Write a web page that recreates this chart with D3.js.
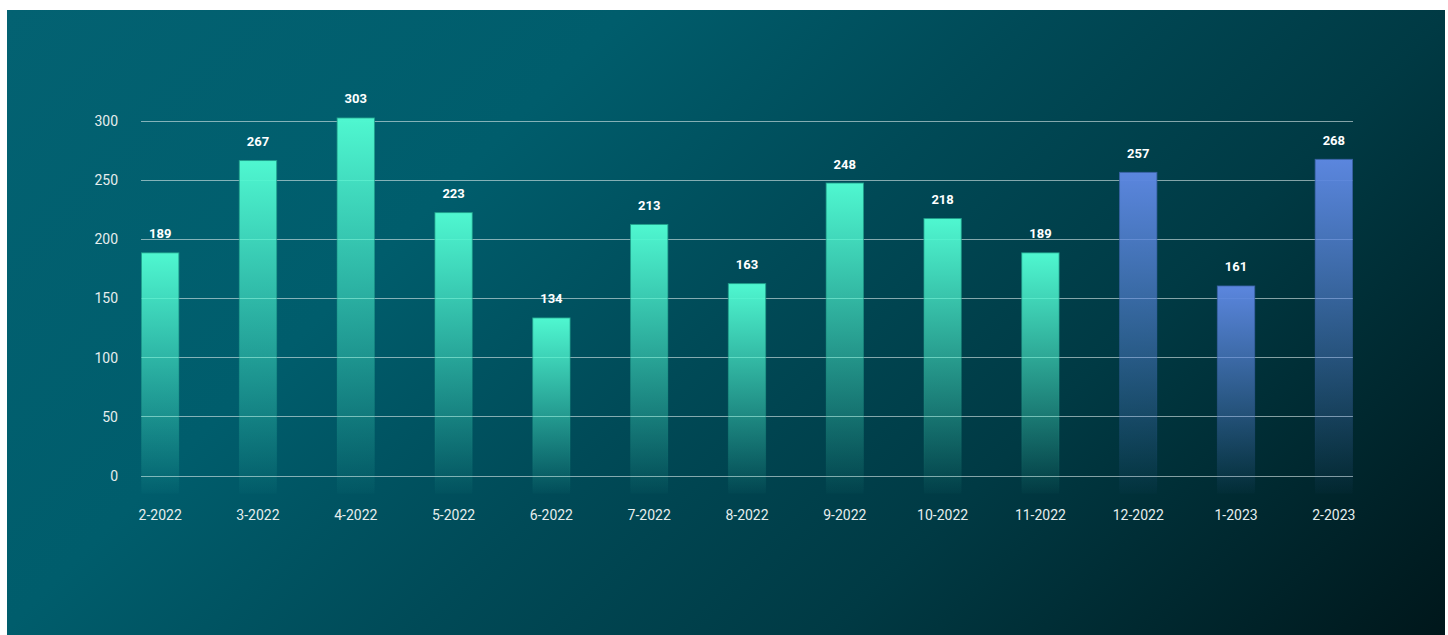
<!DOCTYPE html>
<html>
<head>
<meta charset="utf-8">
<script src="https://cdn.jsdelivr.net/npm/d3@7"></script>
<style>
  html, body { margin: 0; padding: 0; background: #ffffff; }
  #panel {
    position: absolute; left: 7px; top: 10px; width: 1438px; height: 625px;
    background: linear-gradient(135deg, #036272 0%, #005d6c 30%, #004a57 50%, #003a44 70%, #00171b 100%);
  }
  svg { position: absolute; left: 0; top: 0; }
  text { font-family: Roboto, "Noto Sans", sans-serif; }
</style>
</head>
<body>
<div id="panel"></div>
<svg id="chart" width="1448" height="635"></svg>
<script>
// Monthly counts, Feb 2022 – Feb 2023
const months = ["2-2022", "3-2022", "4-2022", "5-2022", "6-2022", "7-2022", "8-2022",
                "9-2022", "10-2022", "11-2022", "12-2022", "1-2023", "2-2023"];
const counts = [189, 267, 303, 223, 134, 213, 163, 248, 218, 189, 257, 161, 268];
// the last three months are shown in the second (blue) colour
const highlighted = ["12-2022", "1-2023", "2-2023"];
const yTicks = [0, 50, 100, 150, 200, 250, 300];

const svg = d3.select("#chart");
const plotLeft = 141, plotRight = 1353, plotTop = 121, plotBottom = 476;

const x = d3.scaleBand().domain(months).range([plotLeft, plotRight]).paddingInner(0.608).paddingOuter(0);
const y = d3.scaleLinear().domain([0, 300]).range([plotBottom, plotTop]);

// vertical fades for the two bar colours
const defs = svg.append("defs");
function fade(id, color, topOpacity, bottomOpacity) {
  const g = defs.append("linearGradient").attr("id", id)
    .attr("x1", 0).attr("y1", 0).attr("x2", 0).attr("y2", 1);
  g.append("stop").attr("offset", "0%").attr("stop-color", color).attr("stop-opacity", topOpacity);
  g.append("stop").attr("offset", "100%").attr("stop-color", color).attr("stop-opacity", bottomOpacity);
}
fade("fillGreen", "#4ff7d0", 1, 0.02);
fade("fillBlue", "#5b86de", 1, 0.02);
fade("lineGreen", "#1f9f8a", 0.8, 0);
fade("lineBlue", "#3b62a8", 0.8, 0);

// horizontal grid lines
svg.append("g").selectAll("line").data(yTicks).join("line")
  .attr("x1", plotLeft).attr("x2", plotRight)
  .attr("y1", d => y(d)).attr("y2", d => y(d))
  .attr("stroke", "rgba(220,235,235,0.6)").attr("stroke-width", 1)
  .attr("shape-rendering", "crispEdges");

// y axis labels
const yAxis = d3.axisLeft(y).tickValues(yTicks).tickSize(0).tickPadding(23);
svg.append("g").attr("transform", `translate(${plotLeft},0)`).call(yAxis)
  .call(g => g.select(".domain").remove())
  .call(g => g.selectAll("text").attr("fill", "#e6eeee").attr("font-size", 14)
    .attr("font-family", "Roboto, 'Noto Sans', sans-serif"));

// bars, running a little below the baseline where they fade out
const barBottom = plotBottom + 17;
const isBlue = m => highlighted.includes(m);
svg.append("g").selectAll("rect").data(months).join("rect")
  .attr("x", m => x(m) + 0.5)
  .attr("width", x.bandwidth() - 1)
  .attr("y", (m, i) => y(counts[i]) + 0.5)
  .attr("height", (m, i) => barBottom - y(counts[i]))
  .attr("fill", m => isBlue(m) ? "url(#fillBlue)" : "url(#fillGreen)")
  .attr("stroke", m => isBlue(m) ? "url(#lineBlue)" : "url(#lineGreen)")
  .attr("stroke-width", 1);

// value labels
svg.append("g").selectAll("text").data(months).join("text")
  .attr("x", m => x(m) + x.bandwidth() / 2)
  .attr("y", (m, i) => y(counts[i]) - 14)
  .attr("text-anchor", "middle")
  .attr("fill", "#ffffff").attr("font-size", 13).attr("font-weight", "bold")
  .text((m, i) => counts[i]);

// x axis labels
const xAxis = d3.axisBottom(x).tickSize(0).tickPadding(34);
svg.append("g").attr("transform", `translate(0,${plotBottom})`).call(xAxis)
  .call(g => g.select(".domain").remove())
  .call(g => g.selectAll("text").attr("fill", "#e6eeee").attr("font-size", 14)
    .attr("font-family", "Roboto, 'Noto Sans', sans-serif"));
</script>
</body>
</html>
